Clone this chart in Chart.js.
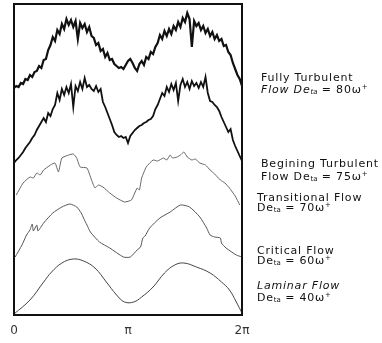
<!DOCTYPE html>
<html>
<head>
<meta charset="utf-8">
<script src="https://cdn.jsdelivr.net/npm/chart.js@4"></script>
<style>
html, body { margin: 0; padding: 0; background: #fff; }
#wrap { position: relative; width: 382px; height: 343px; }
.lab { position: absolute; left: 261px; font: 11px "DejaVu Sans", sans-serif; letter-spacing: 0.8px; color: #111; white-space: nowrap; line-height: 12px; }
.lab.lo { left: 257px; }
.lab i { font-style: italic; }
.lab sub { font-size: 7px; vertical-align: baseline; position: relative; top: 1px; letter-spacing: 0; }
.lab sup { font-size: 7px; vertical-align: baseline; position: relative; top: -4px; }
</style>
</head>
<body>
<div id="wrap">
  <canvas id="chart-area" width="382" height="343"></canvas>
  <div class="lab" style="top:72px">Fully Turbulent</div>
  <div class="lab" style="top:84px"><i>Flow De<sub>ta</sub></i> = 80ω<sup>+</sup></div>
  <div class="lab" style="top:158px">Begining Turbulent</div>
  <div class="lab" style="top:171px">Flow De<sub>ta</sub> = 75ω<sup>+</sup></div>
  <div class="lab lo" style="top:192px">Transitional Flow</div>
  <div class="lab lo" style="top:202px">De<sub>ta</sub> = 70ω<sup>+</sup></div>
  <div class="lab lo" style="top:245px">Critical Flow</div>
  <div class="lab lo" style="top:255px">De<sub>ta</sub> = 60ω<sup>+</sup></div>
  <div class="lab lo" style="top:280px"><i>Laminar Flow</i></div>
  <div class="lab lo" style="top:292px">De<sub>ta</sub> = 40ω<sup>+</sup></div>
</div>
<script>
// phase in units of pi (0 .. 2)
var phaseFine = [0, 0.02, 0.04, 0.06, 0.08, 0.1, 0.12, 0.14, 0.16, 0.18,
    0.2, 0.22, 0.24, 0.26, 0.28, 0.3, 0.32, 0.34, 0.36, 0.38,
    0.4, 0.42, 0.44, 0.46, 0.48, 0.5, 0.52, 0.54, 0.56, 0.58,
    0.6, 0.62, 0.64, 0.66, 0.68, 0.7, 0.72, 0.74, 0.76, 0.78,
    0.8, 0.82, 0.84, 0.86, 0.88, 0.9, 0.92, 0.94, 0.96, 0.98,
    1, 1.02, 1.04, 1.06, 1.08, 1.1, 1.12, 1.14, 1.16, 1.18,
    1.2, 1.22, 1.24, 1.26, 1.28, 1.3, 1.32, 1.34, 1.36, 1.38,
    1.4, 1.42, 1.44, 1.46, 1.48, 1.5, 1.52, 1.54, 1.56, 1.58,
    1.6, 1.62, 1.64, 1.66, 1.68, 1.7, 1.72, 1.74, 1.76, 1.78,
    1.8, 1.82, 1.84, 1.86, 1.88, 1.9, 1.92, 1.94, 1.96, 1.98,
    2];

var fullyTurbulent = [227, 229, 228, 232, 231, 236, 235, 240, 238, 243,
    244, 249, 247, 255, 256, 265, 270, 278, 274, 285,
    281, 291, 286, 296, 290, 295, 288, 294, 276, 292,
    287, 291, 283, 288, 279, 277, 270, 272, 264, 266,
    258, 262, 255, 256, 251, 249, 247, 248, 246, 250,
    254, 256, 252, 247, 244, 251, 254, 250, 258, 256,
    263, 261, 268, 272, 280, 276, 284, 279, 286, 281,
    289, 285, 293, 288, 297, 293, 302, 296, 268, 294,
    289, 292, 285, 289, 282, 286, 279, 283, 276, 280,
    274, 276, 269, 270, 263, 260, 252, 246, 240, 236,
    229];

var beginingTurbulent = [152, 155, 157, 160, 163, 167, 170, 173, 177, 180,
    185, 189, 193, 197, 193, 202, 199, 206, 210, 222,
    215, 226, 220, 228, 222, 231, 208, 229, 224, 233,
    226, 237, 228, 230, 226, 224, 229, 223, 226, 213,
    208, 202, 196, 190, 183, 180, 178, 179, 177, 178,
    172, 179, 182, 185, 187, 189, 190, 192, 193, 195,
    196, 199, 206, 210, 216, 222, 219, 228, 223, 231,
    225, 232, 214, 230, 236, 228, 233, 226, 234, 229,
    232, 227, 233, 228, 238, 222, 214, 213, 210, 208,
    204, 198, 193, 188, 183, 186, 175, 169, 164, 159,
    154];

var transitionalX = [0.02, 0.08, 0.14, 0.17, 0.2, 0.23, 0.26, 0.32, 0.36, 0.39,
    0.42, 0.48, 0.52, 0.55, 0.58, 0.64, 0.68, 0.71, 0.74, 0.78,
    0.84, 0.9, 0.97, 1.03, 1.08, 1.1, 1.12, 1.16, 1.22, 1.26,
    1.31, 1.34, 1.37, 1.39, 1.43, 1.46, 1.49, 1.52, 1.56, 1.59,
    1.63, 1.68, 1.72, 1.76, 1.81, 1.85, 1.89, 1.94, 1.98];
var transitionalY = [120, 132, 138, 137, 142, 140, 145, 150, 152, 143,
    157, 160, 161, 157, 148, 147, 135, 127, 130, 128,
    122, 117, 113, 115, 127, 125, 137, 148, 155, 154,
    157, 155, 160, 157, 158, 160, 163, 158, 155, 156,
    152, 150, 145, 141, 135, 132, 127, 119, 110];

var criticalX = [0.01, 0.07, 0.11, 0.14, 0.16, 0.17, 0.2, 0.21, 0.26, 0.34,
    0.42, 0.49, 0.55, 0.59, 0.61, 0.64, 0.67, 0.75, 0.84, 0.96,
    1.02, 1.08, 1.11, 1.13, 1.15, 1.19, 1.28, 1.37, 1.46, 1.54,
    1.63, 1.69, 1.72, 1.76, 1.81, 1.82, 1.86, 1.95, 2];
var criticalY = [58, 70, 80, 85, 91, 84, 90, 84, 92, 102,
    108, 111, 108, 102, 97, 90, 83, 73, 67, 58,
    58, 65, 68, 77, 79, 87, 97, 103, 110, 108,
    98, 87, 80, 78, 77, 72, 67, 60, 58];

var laminarX = [0, 0.14, 0.26, 0.33, 0.42, 0.52, 0.61, 0.71, 0.81, 0.9,
    0.97, 1.05, 1.12, 1.22, 1.32, 1.41, 1.49, 1.6, 1.72, 1.82,
    1.89, 1.95, 2];
var laminarY = [1, 15, 33, 43, 52, 56, 54, 47, 33, 20,
    13, 13, 18, 28, 42, 50, 52, 48, 42, 33,
    25, 13, 2];

var tickLabels = ['0', 'π', '2π'];

function pairs(xs, ys) {
    return xs.map(function (x, i) { return {x: x, y: ys[i]}; });
}

var framePlugin = {
    id: 'frame',
    afterDraw: function (chart) {
        var a = chart.chartArea, ctx = chart.ctx;
        ctx.save();
        ctx.strokeStyle = '#111';
        ctx.lineWidth = 2;
        ctx.strokeRect(a.left, a.top, a.right - a.left, a.bottom - a.top);
        ctx.restore();
    }
};

var config = {
    type: 'line',
    data: {
        datasets: [
            {label: 'Fully Turbulent', data: pairs(phaseFine, fullyTurbulent), borderColor: '#111', borderWidth: 2.2, tension: 0},
            {label: 'Begining Turbulent', data: pairs(phaseFine, beginingTurbulent), borderColor: '#111', borderWidth: 1.8, tension: 0},
            {label: 'Transitional Flow', data: pairs(transitionalX, transitionalY), borderColor: '#666', borderWidth: 1, tension: 0.15},
            {label: 'Critical Flow', data: pairs(criticalX, criticalY), borderColor: '#555', borderWidth: 1, tension: 0.2},
            {label: 'Laminar Flow', data: pairs(laminarX, laminarY), borderColor: '#444', borderWidth: 1, tension: 0.4}
        ]
    },
    options: {
        responsive: false,
        animation: false,
        layout: {padding: {left: 14, right: 140, top: 4, bottom: 0}},
        elements: {point: {radius: 0}},
        plugins: {legend: {display: false}, tooltip: {enabled: false}},
        scales: {
            x: {
                type: 'linear', min: 0, max: 2,
                grid: {display: false, drawTicks: false},
                border: {display: false},
                ticks: {
                    stepSize: 1, padding: 9, color: '#333',
                    font: {family: 'DejaVu Sans', size: 12},
                    callback: function (v) { return tickLabels[v]; }
                },
                afterFit: function (s) { s.height = 28; }
            },
            y: {display: false, min: 0, max: 311}
        }
    },
    plugins: [framePlugin]
};

var ctx = document.getElementById("chart-area").getContext("2d");
window.myChart = new Chart(ctx, config);
</script>
</body>
</html>
